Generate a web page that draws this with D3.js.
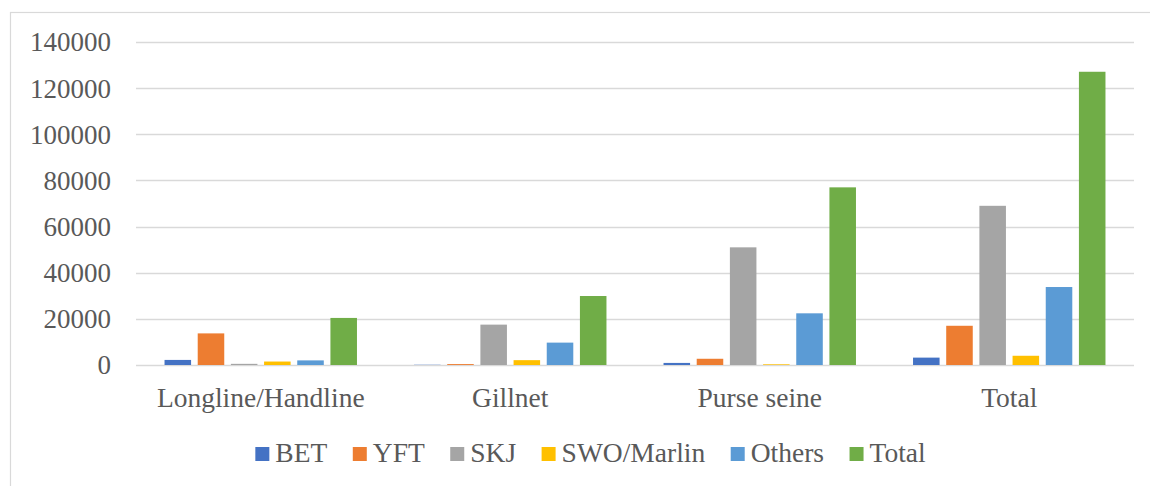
<!DOCTYPE html>
<html><head><meta charset="utf-8">
<script src="https://cdn.jsdelivr.net/npm/d3@7"></script>
<style>body{margin:0;background:#fff;}svg{display:block;} text{font-family:"Liberation Serif","Times New Roman",serif;}</style>
</head><body><svg id="c" width="1150" height="486"></svg>
<script>
const categories = ["Longline/Handline","Gillnet","Purse seine","Total"];
const series = ["BET","YFT","SKJ","SWO/Marlin","Others","Total"];
const BET = [2200, 100, 900, 3200];
const YFT = [13700, 400, 2700, 17000];
const SKJ = [500, 17500, 51000, 69000];
const SWO = [1500, 2100, 300, 4000];
const Others = [2000, 9700, 22400, 33800];
const Total = [20400, 29900, 77000, 127100];
const yTicks = [0,20000,40000,60000,80000,100000,120000,140000];
const colors = ["#4472C4","#ED7D31","#A5A5A5","#FFC000","#5B9BD5","#70AD47"];
const values = [BET, YFT, SKJ, SWO, Others, Total];
const FONT = "'Liberation Serif', 'Times New Roman', serif";

const svg = d3.select("#c");
svg.append("rect").attr("x",10.5).attr("y",12.5).attr("width",1160).attr("height",500)
  .attr("fill","#fff").attr("stroke","#D9D9D9").attr("stroke-width",1.2);

const x0 = d3.scaleBand().domain(categories).range([136,1134]).paddingInner(0).paddingOuter(0);
const x1 = d3.scaleBand().domain(series).range([0,x0.bandwidth()]).paddingInner(0.2).paddingOuter(0.86);
const y = d3.scaleLinear().domain([0,140000]).range([365,42]);

// gridlines
svg.append("g").selectAll("line").data(yTicks).join("line")
  .attr("x1",136).attr("x2",1134).attr("y1",d=>Math.round(y(d))+0.5).attr("y2",d=>Math.round(y(d))+0.5)
  .attr("stroke","#D9D9D9").attr("stroke-width",1.5);

// y labels
svg.append("g").selectAll("text").data(yTicks).join("text")
  .attr("x",111).attr("y",d=>y(d)).attr("dy","0.35em").attr("text-anchor","end")
  .attr("font-family",FONT).attr("font-size",27).attr("fill","#595959").text(d=>d);

// bars
const g = svg.append("g");
categories.forEach((c,i)=>{
  series.forEach((s,j)=>{
    const v = values[j][i];
    g.append("rect").attr("x",x0(c)+x1(s)).attr("width",x1.bandwidth())
      .attr("y",y(v)).attr("height",y(0)-y(v)).attr("fill",colors[j]);
  });
});

// category labels
svg.append("g").selectAll("text").data(categories).join("text")
  .attr("x",d=>x0(d)+x0.bandwidth()/2).attr("y",407).attr("text-anchor","middle")
  .attr("font-family",FONT).attr("font-size",27.5).attr("fill","#595959").text(d=>d);

// legend
const leg = svg.append("g");
const items = series.map((s,j)=>{
  const gi = leg.append("g");
  gi.append("rect").attr("x",0).attr("y",447).attr("width",14).attr("height",14).attr("fill",colors[j]);
  const t = gi.append("text").attr("x",20).attr("y",462).attr("font-family",FONT)
    .attr("font-size",27.5).attr("fill","#595959").text(s);
  return {gi, w: 20 + t.node().getComputedTextLength()};
});
const gap = 25.5;
const totalW = d3.sum(items, d=>d.w) + gap*(items.length-1);
let cx = 590.5 - totalW/2;
items.forEach(it=>{ it.gi.attr("transform",`translate(${cx},0)`); cx += it.w + gap; });
</script></body></html>
